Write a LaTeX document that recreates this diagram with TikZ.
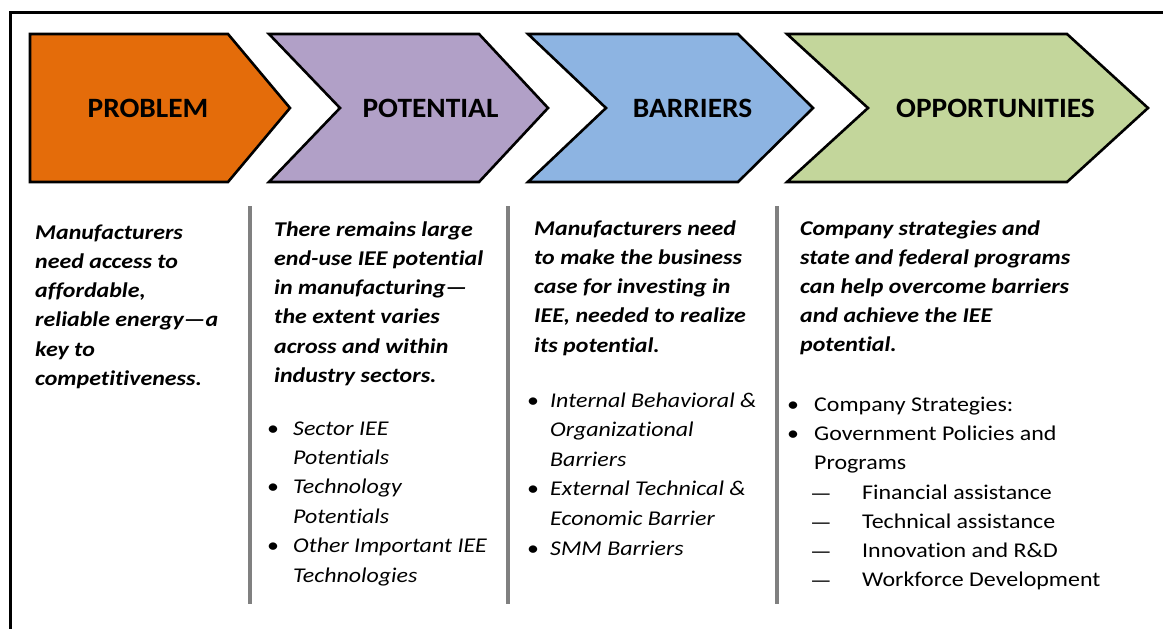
\documentclass[tikz,border=0pt]{standalone}
\usepackage{fontspec}
\setmainfont{Carlito}[
  Ligatures=NoCommon,
  UprightFeatures={FakeStretch=1.14},
  BoldFeatures={FakeStretch=1.05},
  ItalicFeatures={FakeStretch=1.14},
  BoldItalicFeatures={FakeStretch=1.14}]
\definecolor{problemfill}{HTML}{E46C0A}
\definecolor{potentialfill}{HTML}{B1A0C7}
\definecolor{barrierfill}{HTML}{8DB4E2}
\definecolor{opportfill}{HTML}{C3D69B}
\definecolor{sepgray}{HTML}{808080}
\begin{document}
\begin{tikzpicture}[x=1pt,y=-1pt,
  chev/.style={draw=black, line width=2.6pt, line join=miter},
  title/.style={font=\fontsize{28}{32}\selectfont\bfseries, anchor=base, inner sep=0pt},
  lead/.style={font=\fontsize{21}{25}\selectfont\bfseries\itshape, anchor=base west, inner sep=0pt},
  item/.style={font=\fontsize{21}{25}\selectfont\itshape, anchor=base west, inner sep=0pt},
  plain/.style={font=\fontsize{21}{25}\selectfont, anchor=base west, inner sep=0pt},
  dot/.style={font=\fontsize{21}{25}\selectfont, anchor=base, inner sep=0pt},
  submark/.style={font=\fontsize{21}{25}\selectfont, anchor=base, inner sep=0pt},
  sep/.style={draw=sepgray, line width=4pt}]
\useasboundingbox (0,0) rectangle (1163,629);

% outer frame (only its top and left edges fall inside the page)
\draw[line width=3pt] (10.5,629) -- (10.5,12) -- (1163,12);

% process chevrons
\filldraw[chev, fill=problemfill]
  (30,34) -- (228,34) -- (290,108) -- (228,182) -- (30,182) -- cycle;
\filldraw[chev, fill=potentialfill]
  (269,34) -- (479,34) -- (548,108) -- (479,182) -- (269,182) -- (340,108) -- cycle;
\filldraw[chev, fill=barrierfill]
  (528,34) -- (738,34) -- (813,108) -- (738,182) -- (528,182) -- (606,108) -- cycle;
\filldraw[chev, fill=opportfill]
  (787,34) -- (1067,34) -- (1148,108) -- (1067,182) -- (787,182) -- (868,108) -- cycle;

\node[title] (tprob) at (148,117.5) {PROBLEM};
\node[title] (tpot)  at (430.5,117.5) {POTENTIAL};
\node[title] (tbar)  at (692.5,117.5) {BARRIERS};
\node[title] (topp)  at (995.5,117.5) {OPPORTUNITIES};

% column separators
\coordinate (s1t) at (250,206);  \coordinate (s1b) at (250,604);
\coordinate (s2t) at (508,206);  \coordinate (s2b) at (508,604);
\coordinate (s3t) at (777,206);  \coordinate (s3b) at (777,604);
\draw[sep] (s1t) -- (s1b);
\draw[sep] (s2t) -- (s2b);
\draw[sep] (s3t) -- (s3b);

% column 1: problem
\foreach \t [count=\k from 0] in {Manufacturers, need access to, {affordable,}, reliable energy—a, key to, competitiveness.}
  \node[lead] (pa\k) at (35, 239+29.3*\k) {\t};

% column 2: potential
\foreach \t [count=\k from 0] in {There remains large, end-use IEE potential, in manufacturing—, the extent varies, across and within, industry sectors.}
  \node[lead] (pb\k) at (274, 236+29.3*\k) {\t};
\foreach \t [count=\k from 0] in {Sector IEE, Potentials, Technology, Potentials, Other Important IEE, Technologies}
  \node[item] (pc\k) at (293, 435+29.4*\k) {\t};
\node[dot] (pd0) at (273, 435) {•};
\node[dot] (pd1) at (273, 435+2*29.4) {•};
\node[dot] (pd2) at (273, 435+4*29.4) {•};

% column 3: barriers
\foreach \t [count=\k from 0] in {Manufacturers need, to make the business, case for investing in, {IEE, needed to realize}, its potential.}
  \node[lead] (ba\k) at (534, 235+29.3*\k) {\t};
\foreach \t [count=\k from 0] in {Internal Behavioral \&, Organizational, Barriers, External Technical \&, Economic Barrier, SMM Barriers}
  \node[item] (bb\k) at (550, 407+29.6*\k) {\t};
\node[dot] (bd0) at (533, 407) {•};
\node[dot] (bd1) at (533, 407+3*29.6) {•};
\node[dot] (bd2) at (533, 407+5*29.6) {•};

% column 4: opportunities
\foreach \t [count=\k from 0] in {Company strategies and, state and federal programs, can help overcome barriers, and achieve the IEE, potential.}
  \node[lead] (oa\k) at (800, 235+29.1*\k) {\t};
\foreach \t [count=\k from 0] in {Company Strategies:, Government Policies and, Programs}
  \node[plain] (ob\k) at (814, 411+29.2*\k) {\t};
\node[dot] (od0) at (793, 411) {•};
\node[dot] (od1) at (793, 411+29.2) {•};
\foreach \t [count=\k from 0] in {Financial assistance, Technical assistance, Innovation and R\&D, Workforce Development}
  {\node[plain] (oc\k) at (862, 499.6+29*\k) {\t};
   \node[submark] (oe\k) at (821, 500.8+29*\k) {—};}
\end{tikzpicture}
\end{document}
